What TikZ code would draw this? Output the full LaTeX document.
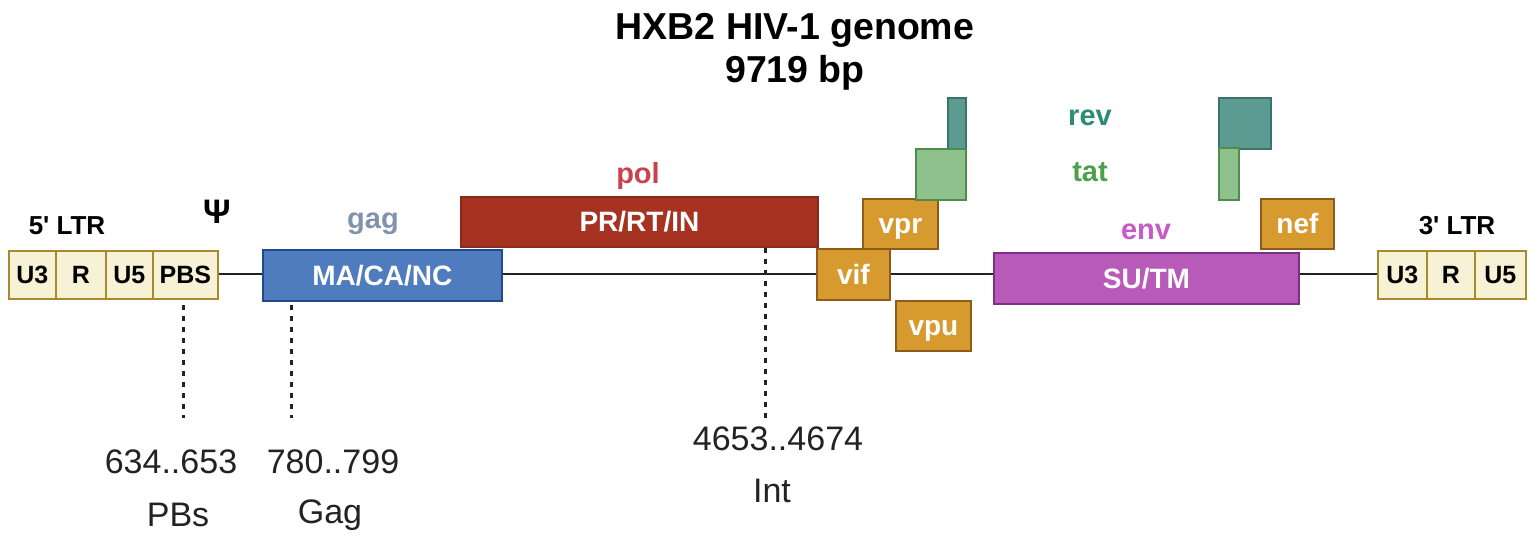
\documentclass[tikz,border=0pt]{standalone}
\usepackage{fontspec}
\setmainfont{Liberation Sans}
\definecolor{ltrfill}{HTML}{F7F2D5}
\definecolor{ltrdraw}{HTML}{A58A30}
\definecolor{gagfill}{HTML}{4E7CBE}
\definecolor{gagdraw}{HTML}{1F4A8F}
\definecolor{gaglab}{HTML}{7F93AA}
\definecolor{polfill}{HTML}{A63322}
\definecolor{poldraw}{HTML}{8A2A1A}
\definecolor{pollab}{HTML}{C8434A}
\definecolor{accfill}{HTML}{D69A2E}
\definecolor{accdraw}{HTML}{8D5B1B}
\definecolor{envfill}{HTML}{B85BB8}
\definecolor{envdraw}{HTML}{7B2F87}
\definecolor{envlab}{HTML}{C75AC7}
\definecolor{revfill}{HTML}{5C9B91}
\definecolor{revdraw}{HTML}{3D7468}
\definecolor{revlab}{HTML}{2E8B77}
\definecolor{tatfill}{HTML}{8EC18C}
\definecolor{tatdraw}{HTML}{4E8C4B}
\definecolor{tatlab}{HTML}{4CA04C}
\definecolor{ink}{HTML}{222222}
\tikzset{
  box/.style={draw, line width=1.8pt, inner sep=0pt, anchor=north west},
  ltrbox/.style={box, fill=ltrfill, draw=ltrdraw, text=black, text height=18pt, text depth=0pt, font=\bfseries\fontsize{25}{25}\selectfont},
  genebox/.style={box, text=white, text height=20pt, text depth=0pt, font=\bfseries\fontsize{28}{28}\selectfont},
  gaglbl/.style={font=\bfseries\fontsize{29}{29}\selectfont},
  numlbl/.style={font=\fontsize{34}{34}\selectfont, text=ink},
  dots/.style={line width=3pt, dash pattern=on 5pt off 6pt, draw=ink},
  backbone/.style={line width=2.5pt, draw=ink},
}
\begin{document}
\begin{tikzpicture}[x=1pt,y=-1pt]
\useasboundingbox[fill=white] (0,0) rectangle (1535,539);
% title
\node[font=\bfseries\fontsize{37.5}{37.5}\selectfont] (t1) at (795,30) {HXB2 HIV-1 genome};
\node[font=\bfseries\fontsize{37.5}{37.5}\selectfont] (t2) at (795,73) {9719 bp};
% 5' LTR
\node[font=\bfseries\fontsize{26}{26}\selectfont] (ltr5) at (67,226) {5\textquotesingle{} LTR};
\node[font=\bfseries\fontsize{34}{34}\selectfont] (psi) at (217,212) {Ψ};
\node[ltrbox, minimum width=47pt, minimum height=48pt] (u3a) at (8,250) {U3};
\node[ltrbox, minimum width=50pt, minimum height=48pt] (ra) at (55,250) {R};
\node[ltrbox, minimum width=47pt, minimum height=48pt] (u5a) at (105,250) {U5};
\node[ltrbox, minimum width=65pt, minimum height=48pt] (pbs) at (152,250) {PBS};
% 3' LTR
\node[font=\bfseries\fontsize{26}{26}\selectfont] (ltr3) at (1457,226) {3\textquotesingle{} LTR};
\node[ltrbox, minimum width=49pt, minimum height=48pt] (u3b) at (1377,250) {U3};
\node[ltrbox, minimum width=48pt, minimum height=48pt] (rb) at (1426,250) {R};
\node[ltrbox, minimum width=51pt, minimum height=48pt] (u5b) at (1474,250) {U5};
% gag
\node[genebox, fill=gagfill, draw=gagdraw, minimum width=239pt, minimum height=51pt] (gag) at (262,249) {MA/CA/NC};
\node[gaglbl, text=gaglab] (gaglabel) at (373,224) {gag};
% pol
\node[genebox, fill=polfill, draw=poldraw, minimum width=357pt, minimum height=50pt] (pol) at (460,196) {PR/RT/IN};
\node[gaglbl, text=pollab] (pollabel) at (638,176) {pol};
% accessory
\node[genebox, fill=accfill, draw=accdraw, minimum width=73pt, minimum height=51pt] (vif) at (816,248) {vif};
\node[genebox, fill=accfill, draw=accdraw, minimum width=75pt, minimum height=50pt] (vpr) at (862,198) {vpr};
\node[genebox, fill=accfill, draw=accdraw, minimum width=75pt, minimum height=50pt] (vpu) at (895,300) {vpu};
\node[genebox, fill=accfill, draw=accdraw, minimum width=73pt, minimum height=50pt] (nef) at (1260,198) {nef};
% rev / tat
\node[box, fill=revfill, draw=revdraw, minimum width=18pt, minimum height=52pt] (rev1) at (947,97) {};
\node[box, fill=tatfill, draw=tatdraw, minimum width=50pt, minimum height=51pt] (tat1) at (915,148) {};
\node[box, fill=revfill, draw=revdraw, minimum width=52pt, minimum height=51pt] (rev2) at (1218,97) {};
\node[box, fill=tatfill, draw=tatdraw, minimum width=20pt, minimum height=52pt] (tat2) at (1218,147) {};
\node[gaglbl, text=revlab] (revlabel) at (1090,118) {rev};
\node[gaglbl, text=tatlab] (tatlabel) at (1090,172) {tat};
% env
\node[genebox, fill=envfill, draw=envdraw, minimum width=305pt, minimum height=51pt] (env) at (993,252) {SU/TM};
\node[gaglbl, text=envlab] (envlabel) at (1146,232) {env};
% backbone
\draw[backbone] (pbs.east |- 0,274) -- (gag.west |- 0,274);
\draw[backbone] (gag.east |- 0,274) -- (vif.west |- 0,274);
\draw[backbone] (vif.east |- 0,274) -- (env.west |- 0,274);
\draw[backbone] (env.east |- 0,274) -- (u3b.west |- 0,274);
% primer labels
\node[numlbl] (n1) at (171,462) {634..653};
\node[numlbl] (n2) at (333,462) {780..799};
\node[numlbl] (n3) at (778,439) {4653..4674};
\node[numlbl] (p1) at (178,515) {PBs};
\node[numlbl] (p2) at (330,515) {Gag};
\node[numlbl] (p3) at (772,491) {Int};
\coordinate (d1) at (183,418);
\coordinate (d2) at (291,418);
\coordinate (d3) at (765,422);
\draw[dots] (183,305) -- (d1);
\draw[dots] (291,305) -- (d2);
\draw[dots] (pol.south -| d3) -- (d3);
\end{tikzpicture}
\end{document}
